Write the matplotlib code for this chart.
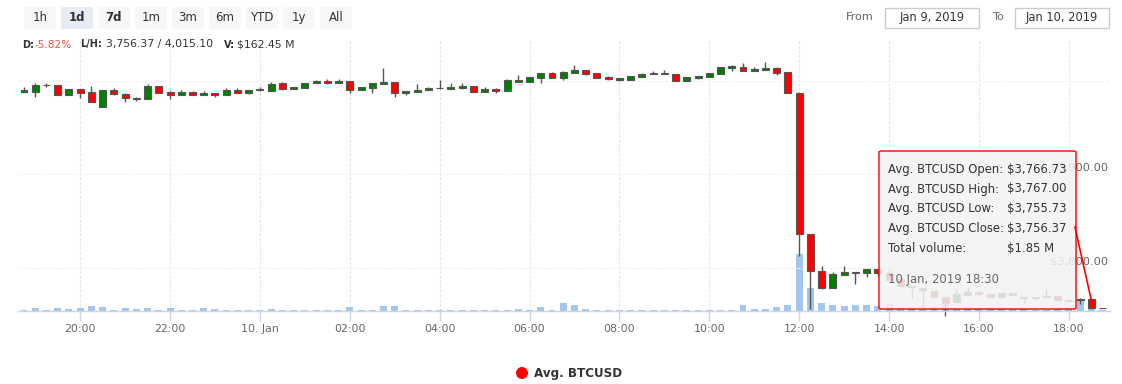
import matplotlib
matplotlib.use('Agg')
import matplotlib.pyplot as plt
import pandas as pd
from matplotlib.patches import FancyBboxPatch, Ellipse
from matplotlib.lines import Line2D
import matplotlib.transforms as mtransforms

# ---------------- data ----------------
start_time = '2019-01-09 18:45'
opens = [3990.2, 3988.1, 3995.4, 3995.2, 3984.9, 3991.0, 3987.7, 3972.0, 3989.9, 3985.6,
         3981.6, 3979.9, 3994.2, 3988.1, 3984.9, 3988.1, 3984.9, 3986.7, 3984.9, 3989.9,
         3987.0, 3989.8, 3989.1, 3997.4, 3991.3, 3992.3, 3997.0, 3999.5, 3997.7, 3999.5,
         3989.6, 3992.3, 3996.6, 3998.4, 3987.0, 3988.1, 3989.6, 3991.9, 3991.3, 3992.0,
         3994.2, 3988.1, 3991.3, 3989.1, 4000.9, 3998.8, 4002.7, 4008.1, 4002.7, 4008.4,
         4011.3, 4008.1, 4003.8, 4003.0, 4000.9, 4004.1, 4006.7, 4008.1, 4007.0, 3999.9,
         4003.0, 4004.1, 4007.3, 4015.6, 4014.5, 4010.5, 4011.6, 4013.4, 4009.1, 3987.0,
         3835.8, 3795.9, 3778.0, 3792.3, 3795.1, 3793.7, 3798.0, 3794.1, 3787.6, 3780.2,
         3778.0, 3775.1, 3768.4, 3763.0, 3770.5, 3773.4, 3771.6, 3768.1, 3773.0, 3768.1,
         3768.7, 3769.1, 3769.5, 3765.2, 3765.2, 3766.73, 3756.37]
highs = [3993.4, 3997.0, 3997.0, 3995.4, 3991.2, 3991.2, 3994.2, 3990.2, 3992.0, 3986.7,
         3982.7, 3996.0, 3994.4, 3988.3, 3989.9, 3988.3, 3988.8, 3986.9, 3992.0, 3992.0,
         3990.1, 3992.8, 3998.4, 3998.4, 3993.3, 3997.6, 4000.6, 4001.7, 4001.7, 3999.7,
         3993.3, 3997.6, 4013.7, 3998.6, 3989.3, 3996.3, 3993.1, 4000.6, 3997.4, 3997.4,
         3994.4, 3993.1, 3992.3, 4001.7, 4005.9, 4004.0, 4008.3, 4009.1, 4009.7, 4017.0,
         4011.5, 4008.3, 4004.9, 4003.2, 4005.1, 4008.1, 4010.2, 4011.3, 4007.2, 4004.0,
         4005.1, 4008.3, 4014.7, 4016.6, 4018.8, 4014.5, 4020.2, 4014.9, 4009.5, 3987.4,
         3836.0, 3801.6, 3795.1, 3801.6, 3795.3, 3798.2, 3798.2, 3797.3, 3787.8, 3780.4,
         3778.2, 3775.3, 3768.6, 3776.6, 3778.8, 3773.6, 3771.8, 3772.5, 3773.2, 3768.3,
         3768.9, 3776.6, 3769.7, 3765.4, 3767.6, 3767.00, 3757.2]
lows = [3987.8, 3982.7, 3992.8, 3984.7, 3984.7, 3981.6, 3977.2, 3971.8, 3984.2, 3977.4,
        3978.1, 3979.7, 3986.8, 3980.6, 3984.7, 3984.2, 3984.7, 3982.7, 3984.7, 3986.8,
        3985.9, 3988.8, 3988.9, 3990.2, 3991.1, 3992.1, 3996.8, 3996.6, 3997.5, 3987.0,
        3989.4, 3987.0, 3996.4, 3982.7, 3984.9, 3987.9, 3989.4, 3990.6, 3991.1, 3991.0,
        3987.9, 3987.9, 3987.0, 3988.9, 3998.6, 3998.6, 3997.4, 4002.5, 4000.6, 4008.2,
        4006.3, 4002.5, 4000.6, 3999.9, 4000.7, 4003.9, 4006.5, 4006.5, 3999.7, 3999.7,
        4002.1, 4003.9, 4006.7, 4010.2, 4010.3, 4010.3, 4011.4, 4006.3, 3986.1, 3812.6,
        3755.9, 3777.3, 3777.8, 3791.6, 3782.3, 3790.1, 3790.9, 3786.4, 3780.0, 3767.3,
        3758.0, 3768.5, 3748.0, 3762.8, 3770.3, 3771.1, 3767.9, 3767.9, 3770.0, 3762.3,
        3765.2, 3768.6, 3765.0, 3763.9, 3760.9, 3755.73, 3756.2]
closes = [3988.1, 3995.2, 3995.0, 3984.9, 3991.0, 3987.0, 3977.4, 3989.9, 3985.3, 3981.0,
          3979.9, 3994.2, 3987.0, 3984.9, 3988.1, 3984.9, 3986.7, 3984.9, 3989.9, 3987.0,
          3989.9, 3990.1, 3996.6, 3991.3, 3993.1, 3997.4, 3999.5, 3997.7, 3999.5, 3989.6,
          3993.1, 3997.4, 3998.4, 3987.0, 3989.1, 3990.2, 3992.3, 3992.2, 3993.4, 3994.2,
          3988.1, 3991.3, 3989.1, 4000.9, 3998.8, 4003.8, 4008.1, 4002.7, 4009.5, 4011.3,
          4007.0, 4002.7, 4001.7, 4000.9, 4004.9, 4007.0, 4008.1, 4006.7, 3999.9, 4003.8,
          4004.9, 4008.1, 4014.5, 4013.7, 4010.5, 4012.7, 4013.4, 4008.4, 3986.3, 3835.5,
          3795.9, 3778.0, 3793.0, 3795.1, 3793.7, 3798.0, 3793.7, 3786.6, 3780.2, 3778.8,
          3775.9, 3768.7, 3762.3, 3771.6, 3773.7, 3771.3, 3768.1, 3772.3, 3770.2, 3767.8,
          3767.7, 3768.8, 3765.2, 3764.1, 3765.9, 3756.37, 3757.0]
volumes_m = [0.4, 1.1, 0.4, 1.1, 0.75, 1.1, 1.85, 1.5, 0.4, 1.1,
             0.75, 1.1, 0.4, 1.1, 0.4, 0.4, 1.1, 0.75, 0.4, 0.4,
             0.4, 0.2, 0.75, 0.4, 0.4, 0.2, 0.2, 0.4, 0.4, 1.3,
             0.2, 0.4, 1.85, 1.85, 0.4, 0.4, 0.2, 0.2, 0.4, 0.4,
             0.2, 0.4, 0.2, 0.4, 0.75, 0.2, 1.65, 0.4, 2.8, 2.05,
             0.75, 0.4, 0.2, 0.2, 0.2, 0.4, 0.4, 0.2, 0.2, 0.2,
             0.2, 0.4, 0.4, 0.4, 2.05, 0.8, 0.8, 1.65, 2.4, 21.1,
             8.5, 2.95, 2.2, 1.85, 2.2, 2.2, 1.85, 2.6, 1.1, 1.5,
             1.85, 1.85, 2.95, 0.75, 1.5, 0.75, 1.5, 0.75, 0.75, 0.75,
             0.4, 0.4, 0.75, 1.1, 4.05, 1.85, 0.4]

tick_times = ['2019-01-09 20:00', '2019-01-09 22:00', '2019-01-10 00:00', '2019-01-10 02:00',
              '2019-01-10 04:00', '2019-01-10 06:00', '2019-01-10 08:00', '2019-01-10 10:00',
              '2019-01-10 12:00', '2019-01-10 14:00', '2019-01-10 16:00', '2019-01-10 18:00']
tick_labels = ['20:00', '22:00', '10. Jan', '02:00', '04:00', '06:00', '08:00', '10:00',
               '12:00', '14:00', '16:00', '18:00']
price_grid = [4000, 3900, 3800]
price_labels = {3900: '$3,900.00', 3800: '$3,800.00'}
buttons = ['1h', '1d', '7d', '1m', '3m', '6m', 'YTD', '1y', 'All']
series_name = 'Avg. BTCUSD'
tooltip_rows = [('Avg. BTCUSD Open:', '$3,766.73'), ('Avg. BTCUSD High:', '$3,767.00'),
                ('Avg. BTCUSD Low:', '$3,755.73'), ('Avg. BTCUSD Close:', '$3,756.37'),
                ('Total volume:', '$1.85 M')]
tooltip_date = '10 Jan, 2019 18:30'

# ---------------- figure ----------------
W, H = 1122, 384
fig = plt.figure(figsize=(W / 100, H / 100), dpi=100)
plt.rcParams['font.family'] = ['DejaVu Sans']

def fx(px):
    return px / W

def fy(py):
    return 1 - py / H

L_px, R_px, T_px, B_px = 18, 1110, 40, 311
rect = [fx(L_px), fy(B_px), fx(R_px) - fx(L_px), fy(T_px) - fy(B_px)]

times = pd.date_range(start_time, periods=len(opens), freq='15min')
step = pd.Timedelta(minutes=15)
body_w = step * 0.62

ax_v = fig.add_axes(rect)
ax = fig.add_axes(rect, sharex=ax_v)
ax.patch.set_alpha(0)

# grid (behind volume)
tt = pd.to_datetime(tick_times)
for t in tt:
    ax_v.axvline(t, color='#e6e6e6', lw=0.75, ls=(0, (3, 1.5)), zorder=0)

# volume
ax_v.bar(times, volumes_m, width=body_w, color='#a3c6ec', linewidth=0, zorder=1)
ax_v.set_ylim(0, (B_px - T_px) * 0.37)
for s in ax_v.spines.values():
    s.set_visible(False)
ax_v.tick_params(left=False, labelleft=False, bottom=False, labelbottom=False)

for p in price_grid:
    ax.axhline(p, color='#f0f0f0', lw=0.75, ls=(0, (3, 1.5)), zorder=0)

# candles
up_col, down_col, line_col = '#008000', '#ff0000', '#555555'
colors = [up_col if c >= o else down_col for o, c in zip(opens, closes)]
bottoms = [min(o, c) for o, c in zip(opens, closes)]
heights = [max(abs(c - o), 0.6) for o, c in zip(opens, closes)]
ax.vlines(times, lows, highs, color=line_col, lw=1, zorder=2, clip_on=False)
ax.bar(times, heights, bottom=bottoms, width=body_w, color=colors,
       edgecolor=line_col, linewidth=0.8, zorder=3)

yscale = 0.935
ax.set_ylim(3900 - (B_px - 174) / yscale, 3900 + (174 - T_px) / yscale)
ax.set_xlim(times[0] - pd.Timedelta(minutes=8), times[-1] + pd.Timedelta(minutes=10))

for k in ['top', 'left', 'right']:
    ax.spines[k].set_visible(False)
ax.spines['bottom'].set_color('#ccd6eb')
ax.spines['bottom'].set_linewidth(1)
ax.set_xticks(tt)
ax.set_xticklabels(tick_labels)
ax.tick_params(axis='x', length=7, width=1, color='#ccd6eb', labelsize=7.9,
               labelcolor='#666666', pad=2)
ax.tick_params(axis='y', left=False, labelleft=False)

# y labels inside plot on the right
trans = mtransforms.blended_transform_factory(ax.transAxes, ax.transData)
for p, lab in price_labels.items():
    ax.text(0.9985, p + 6.5, lab, transform=trans, ha='right', va='center',
            fontsize=8.2, color='#666666', zorder=1)

# ---------------- top controls ----------------
btn_x0, btn_w, btn_gap = 24, 32, 5
for i, b in enumerate(buttons):
    x0 = btn_x0 + i * (btn_w + btn_gap)
    fc = '#e6ebf5' if b == '1d' else '#f7f7f7'
    fig.patches.append(FancyBboxPatch((fx(x0), fy(29)), fx(btn_w), fy(7) - fy(29),
                                      boxstyle='round,pad=0,rounding_size=0.003',
                                      transform=fig.transFigure, fc=fc, ec='none'))
    fig.text(fx(x0 + btn_w / 2), fy(17.5), b, ha='center', va='center', fontsize=8.5,
             color='#333333', fontweight='bold' if b in ('1d', '7d') else 'normal')

info_y = fy(44.5)
fig.text(fx(22), info_y, 'D:', fontsize=7.0, fontweight='bold', color='#333333', va='center')
fig.text(fx(34), info_y, '-5.82%', fontsize=7.6, color='#e8553f', va='center')
fig.text(fx(80), info_y, 'L/H:', fontsize=7.0, fontweight='bold', color='#333333', va='center')
fig.text(fx(106), info_y, '3,756.37 / 4,015.10', fontsize=7.8, color='#333333', va='center')
fig.text(fx(224), info_y, 'V:', fontsize=7.0, fontweight='bold', color='#333333', va='center')
fig.text(fx(237), info_y, '$162.45 M', fontsize=7.8, color='#333333', va='center')

fig.text(fx(846), fy(17.5), 'From', fontsize=8.1, color='#666666', va='center')
fig.text(fx(992), fy(17.5), 'To', fontsize=8.1, color='#666666', va='center')
for (x0, x1), lab in [((885, 979), 'Jan 9, 2019'), ((1015, 1109), 'Jan 10, 2019')]:
    fig.patches.append(plt.Rectangle((fx(x0), fy(28)), fx(x1 - x0), fy(8) - fy(28),
                                     transform=fig.transFigure, fc='white', ec='#cccccc', lw=1))
    fig.text(fx((x0 + x1) / 2), fy(17.5), lab, ha='center', va='center', fontsize=8.3,
             color='#333333')

# ---------------- tooltip ----------------
tx0, ty0, tx1, ty1 = 879, 151, 1076, 309
fig.patches.append(FancyBboxPatch((fx(tx0 + 1.5), fy(ty1 + 1.5)), fx(tx1 - tx0), fy(ty0) - fy(ty1),
                                  boxstyle='round,pad=0,rounding_size=0.003',
                                  transform=fig.transFigure, fc=(0, 0, 0, 0.10), ec='none',
                                  zorder=20))
fig.patches.append(FancyBboxPatch((fx(tx0), fy(ty1)), fx(tx1 - tx0), fy(ty0) - fy(ty1),
                                  boxstyle='round,pad=0,rounding_size=0.003',
                                  transform=fig.transFigure, fc=(0.969, 0.969, 0.969, 0.85),
                                  ec='#ff0000', lw=1, zorder=21))
fig.lines.append(Line2D([fx(1075), fx(1091)], [fy(227), fy(299)], transform=fig.transFigure,
                        color='#ff0000', lw=1.2, zorder=22))
row_y = [169, 189, 208.7, 228.3, 248.3]
for (lab, val), yy in zip(tooltip_rows, row_y):
    fig.text(fx(888), fy(yy), lab, fontsize=8.4, color='#333333', va='center', zorder=23)
    fig.text(fx(1007), fy(yy), val, fontsize=8.4, color='#333333', va='center', zorder=23)
fig.text(fx(888), fy(280), tooltip_date, fontsize=8.4, color='#666666', va='center', zorder=23)

# ---------------- legend ----------------
fig.patches.append(Ellipse((fx(522), fy(373)), width=12 / W, height=12 / H,
                           transform=fig.transFigure, fc='#ff0000', ec='none'))
fig.text(fx(534), fy(373.5), series_name, fontsize=8.6, fontweight='bold', color='#333333',
         va='center')

fig.savefig('out.png', dpi=100)
